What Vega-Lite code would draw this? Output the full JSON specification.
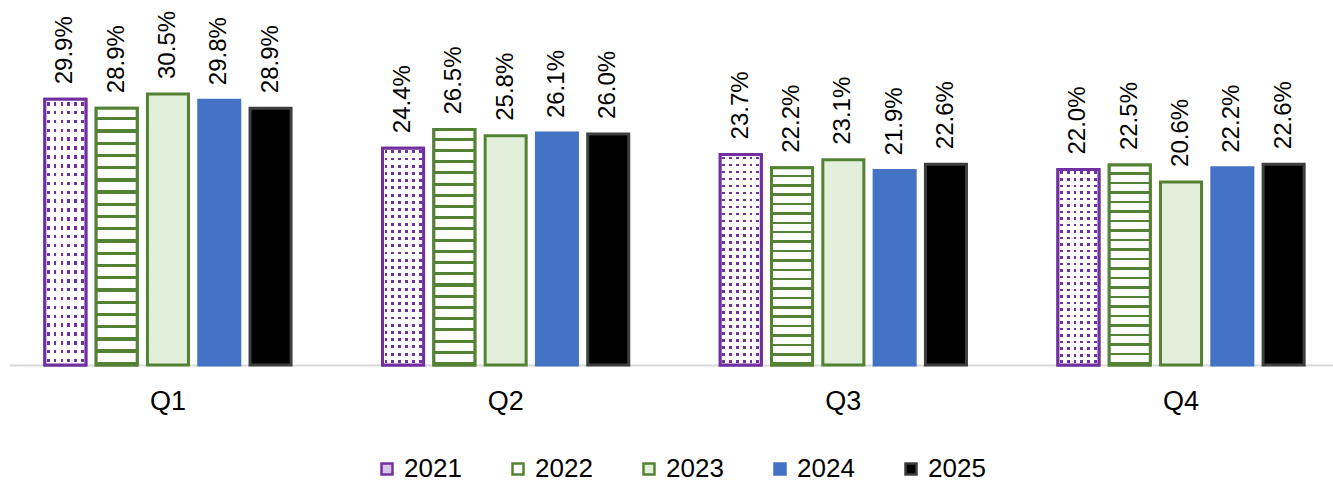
{
  "$schema": "https://vega.github.io/schema/vega-lite/v6.json",
  "autosize": "none",
  "width": 1331,
  "height": 311,
  "padding": {"left": 9, "top": 54, "right": 0, "bottom": 118},
  "background": "#ffffff",
  "config": {"view": {"stroke": null}, "font": "Liberation Sans"},
  "data": {"values": [
    {"quarter": "Q1", "year": "2021", "value": 0.299},
    {"quarter": "Q1", "year": "2022", "value": 0.289},
    {"quarter": "Q1", "year": "2023", "value": 0.305},
    {"quarter": "Q1", "year": "2024", "value": 0.298},
    {"quarter": "Q1", "year": "2025", "value": 0.289},
    {"quarter": "Q2", "year": "2021", "value": 0.244},
    {"quarter": "Q2", "year": "2022", "value": 0.265},
    {"quarter": "Q2", "year": "2023", "value": 0.258},
    {"quarter": "Q2", "year": "2024", "value": 0.261},
    {"quarter": "Q2", "year": "2025", "value": 0.260},
    {"quarter": "Q3", "year": "2021", "value": 0.237},
    {"quarter": "Q3", "year": "2022", "value": 0.222},
    {"quarter": "Q3", "year": "2023", "value": 0.231},
    {"quarter": "Q3", "year": "2024", "value": 0.219},
    {"quarter": "Q3", "year": "2025", "value": 0.226},
    {"quarter": "Q4", "year": "2021", "value": 0.220},
    {"quarter": "Q4", "year": "2022", "value": 0.225},
    {"quarter": "Q4", "year": "2023", "value": 0.206},
    {"quarter": "Q4", "year": "2024", "value": 0.222},
    {"quarter": "Q4", "year": "2025", "value": 0.226}
  ]},
  "encoding": {
    "x": {"field": "quarter", "type": "nominal", "title": null,
      "scale": {"paddingInner": 0.2405, "paddingOuter": 0.091},
      "axis": {"labelAngle": 0, "ticks": false, "domainColor": "#D9D9D9", "domainWidth": 2, "labelFontSize": 27, "labelColor": "#000000", "labelPadding": 23, "grid": false}},
    "xOffset": {"field": "year", "type": "nominal", "scale": {"paddingInner": 0.2, "paddingOuter": 0.1}},
    "y": {"field": "value", "type": "quantitative", "scale": {"domain": [0, 0.35]}, "axis": null}
  },
  "layer": [
    {
      "mark": {"type": "bar", "strokeWidth": 3},
      "encoding": {
        "fill": {"field": "year", "type": "nominal", "title": null,
          "scale": {"domain": ["2021", "2022", "2023", "2024", "2025"], "range": ["#D8C4E8", "#FFFFFF", "#E2EFDA", "#4472C4", "#000000"]},
          "legend": {"orient": "none", "legendX": 365, "legendY": 402, "direction": "horizontal", "symbolType": "square", "symbolSize": 121, "symbolStrokeWidth": 2.5, "labelFontSize": 26, "labelColor": "#000000", "labelOffset": 4, "columnPadding": 43, "padding": 0}},
        "stroke": {"field": "year", "type": "nominal", "title": null,
          "scale": {"domain": ["2021", "2022", "2023", "2024", "2025"], "range": ["#7030A0", "#548235", "#548235", "#4472C4", "#3F3F3F"]}}
      }
    },
    {
      "transform": [{"filter": "datum.year == '2021'"}],
      "mark": {"type": "bar", "strokeWidth": 0, "fill": {"gradient": "linear", "x1": 0, "y1": 0, "x2": 0, "y2": 1, "stops": [
        {"offset": 0, "color": "#ffffff"},
        {"offset": 0.01, "color": "#ffffff"}, {"offset": 0.01, "color": "#7030A0"}, {"offset": 0.0233, "color": "#7030A0"}, {"offset": 0.0233, "color": "#ffffff"},
        {"offset": 0.0433, "color": "#ffffff"}, {"offset": 0.0433, "color": "#7030A0"}, {"offset": 0.0567, "color": "#7030A0"}, {"offset": 0.0567, "color": "#ffffff"},
        {"offset": 0.0767, "color": "#ffffff"}, {"offset": 0.0767, "color": "#7030A0"}, {"offset": 0.09, "color": "#7030A0"}, {"offset": 0.09, "color": "#ffffff"},
        {"offset": 0.11, "color": "#ffffff"}, {"offset": 0.11, "color": "#7030A0"}, {"offset": 0.1233, "color": "#7030A0"}, {"offset": 0.1233, "color": "#ffffff"},
        {"offset": 0.1433, "color": "#ffffff"}, {"offset": 0.1433, "color": "#7030A0"}, {"offset": 0.1567, "color": "#7030A0"}, {"offset": 0.1567, "color": "#ffffff"},
        {"offset": 0.1767, "color": "#ffffff"}, {"offset": 0.1767, "color": "#7030A0"}, {"offset": 0.19, "color": "#7030A0"}, {"offset": 0.19, "color": "#ffffff"},
        {"offset": 0.21, "color": "#ffffff"}, {"offset": 0.21, "color": "#7030A0"}, {"offset": 0.2233, "color": "#7030A0"}, {"offset": 0.2233, "color": "#ffffff"},
        {"offset": 0.2433, "color": "#ffffff"}, {"offset": 0.2433, "color": "#7030A0"}, {"offset": 0.2567, "color": "#7030A0"}, {"offset": 0.2567, "color": "#ffffff"},
        {"offset": 0.2767, "color": "#ffffff"}, {"offset": 0.2767, "color": "#7030A0"}, {"offset": 0.29, "color": "#7030A0"}, {"offset": 0.29, "color": "#ffffff"},
        {"offset": 0.31, "color": "#ffffff"}, {"offset": 0.31, "color": "#7030A0"}, {"offset": 0.3233, "color": "#7030A0"}, {"offset": 0.3233, "color": "#ffffff"},
        {"offset": 0.3433, "color": "#ffffff"}, {"offset": 0.3433, "color": "#7030A0"}, {"offset": 0.3567, "color": "#7030A0"}, {"offset": 0.3567, "color": "#ffffff"},
        {"offset": 0.3767, "color": "#ffffff"}, {"offset": 0.3767, "color": "#7030A0"}, {"offset": 0.39, "color": "#7030A0"}, {"offset": 0.39, "color": "#ffffff"},
        {"offset": 0.41, "color": "#ffffff"}, {"offset": 0.41, "color": "#7030A0"}, {"offset": 0.4233, "color": "#7030A0"}, {"offset": 0.4233, "color": "#ffffff"},
        {"offset": 0.4433, "color": "#ffffff"}, {"offset": 0.4433, "color": "#7030A0"}, {"offset": 0.4567, "color": "#7030A0"}, {"offset": 0.4567, "color": "#ffffff"},
        {"offset": 0.4767, "color": "#ffffff"}, {"offset": 0.4767, "color": "#7030A0"}, {"offset": 0.49, "color": "#7030A0"}, {"offset": 0.49, "color": "#ffffff"},
        {"offset": 0.51, "color": "#ffffff"}, {"offset": 0.51, "color": "#7030A0"}, {"offset": 0.5233, "color": "#7030A0"}, {"offset": 0.5233, "color": "#ffffff"},
        {"offset": 0.5433, "color": "#ffffff"}, {"offset": 0.5433, "color": "#7030A0"}, {"offset": 0.5567, "color": "#7030A0"}, {"offset": 0.5567, "color": "#ffffff"},
        {"offset": 0.5767, "color": "#ffffff"}, {"offset": 0.5767, "color": "#7030A0"}, {"offset": 0.59, "color": "#7030A0"}, {"offset": 0.59, "color": "#ffffff"},
        {"offset": 0.61, "color": "#ffffff"}, {"offset": 0.61, "color": "#7030A0"}, {"offset": 0.6233, "color": "#7030A0"}, {"offset": 0.6233, "color": "#ffffff"},
        {"offset": 0.6433, "color": "#ffffff"}, {"offset": 0.6433, "color": "#7030A0"}, {"offset": 0.6567, "color": "#7030A0"}, {"offset": 0.6567, "color": "#ffffff"},
        {"offset": 0.6767, "color": "#ffffff"}, {"offset": 0.6767, "color": "#7030A0"}, {"offset": 0.69, "color": "#7030A0"}, {"offset": 0.69, "color": "#ffffff"},
        {"offset": 0.71, "color": "#ffffff"}, {"offset": 0.71, "color": "#7030A0"}, {"offset": 0.7233, "color": "#7030A0"}, {"offset": 0.7233, "color": "#ffffff"},
        {"offset": 0.7433, "color": "#ffffff"}, {"offset": 0.7433, "color": "#7030A0"}, {"offset": 0.7567, "color": "#7030A0"}, {"offset": 0.7567, "color": "#ffffff"},
        {"offset": 0.7767, "color": "#ffffff"}, {"offset": 0.7767, "color": "#7030A0"}, {"offset": 0.79, "color": "#7030A0"}, {"offset": 0.79, "color": "#ffffff"},
        {"offset": 0.81, "color": "#ffffff"}, {"offset": 0.81, "color": "#7030A0"}, {"offset": 0.8233, "color": "#7030A0"}, {"offset": 0.8233, "color": "#ffffff"},
        {"offset": 0.8433, "color": "#ffffff"}, {"offset": 0.8433, "color": "#7030A0"}, {"offset": 0.8567, "color": "#7030A0"}, {"offset": 0.8567, "color": "#ffffff"},
        {"offset": 0.8767, "color": "#ffffff"}, {"offset": 0.8767, "color": "#7030A0"}, {"offset": 0.89, "color": "#7030A0"}, {"offset": 0.89, "color": "#ffffff"},
        {"offset": 0.91, "color": "#ffffff"}, {"offset": 0.91, "color": "#7030A0"}, {"offset": 0.9233, "color": "#7030A0"}, {"offset": 0.9233, "color": "#ffffff"},
        {"offset": 0.9433, "color": "#ffffff"}, {"offset": 0.9433, "color": "#7030A0"}, {"offset": 0.9567, "color": "#7030A0"}, {"offset": 0.9567, "color": "#ffffff"},
        {"offset": 0.9767, "color": "#ffffff"}, {"offset": 0.9767, "color": "#7030A0"}, {"offset": 0.99, "color": "#7030A0"}, {"offset": 0.99, "color": "#ffffff"},
        {"offset": 1, "color": "#ffffff"}
      ]}}
    },
    {
      "transform": [{"filter": "datum.year == '2021'"}],
      "mark": {"type": "bar", "strokeWidth": 0, "fill": {"gradient": "linear", "x1": 0, "y1": 0, "x2": 1, "y2": 0, "stops": [
        {"offset": 0, "color": "#ffffff"},
        {"offset": 0.05, "color": "#ffffff"}, {"offset": 0.05, "color": "rgba(255,255,255,0)"}, {"offset": 0.1167, "color": "rgba(255,255,255,0)"}, {"offset": 0.1167, "color": "#ffffff"},
        {"offset": 0.2167, "color": "#ffffff"}, {"offset": 0.2167, "color": "rgba(255,255,255,0)"}, {"offset": 0.2833, "color": "rgba(255,255,255,0)"}, {"offset": 0.2833, "color": "#ffffff"},
        {"offset": 0.3833, "color": "#ffffff"}, {"offset": 0.3833, "color": "rgba(255,255,255,0)"}, {"offset": 0.45, "color": "rgba(255,255,255,0)"}, {"offset": 0.45, "color": "#ffffff"},
        {"offset": 0.55, "color": "#ffffff"}, {"offset": 0.55, "color": "rgba(255,255,255,0)"}, {"offset": 0.6167, "color": "rgba(255,255,255,0)"}, {"offset": 0.6167, "color": "#ffffff"},
        {"offset": 0.7167, "color": "#ffffff"}, {"offset": 0.7167, "color": "rgba(255,255,255,0)"}, {"offset": 0.7833, "color": "rgba(255,255,255,0)"}, {"offset": 0.7833, "color": "#ffffff"},
        {"offset": 0.8833, "color": "#ffffff"}, {"offset": 0.8833, "color": "rgba(255,255,255,0)"}, {"offset": 0.95, "color": "rgba(255,255,255,0)"}, {"offset": 0.95, "color": "#ffffff"},
        {"offset": 1, "color": "#ffffff"}
      ]}}
    },
    {
      "transform": [{"filter": "datum.year == '2022'"}],
      "mark": {"type": "bar", "strokeWidth": 0, "fill": {"gradient": "linear", "x1": 0, "y1": 0, "x2": 0, "y2": 1, "stops": [
        {"offset": 0, "color": "#ffffff"},
        {"offset": 0.03476, "color": "#ffffff"}, {"offset": 0.03476, "color": "#548235"}, {"offset": 0.04762, "color": "#548235"}, {"offset": 0.04762, "color": "#ffffff"},
        {"offset": 0.08238, "color": "#ffffff"}, {"offset": 0.08238, "color": "#548235"}, {"offset": 0.09524, "color": "#548235"}, {"offset": 0.09524, "color": "#ffffff"},
        {"offset": 0.13, "color": "#ffffff"}, {"offset": 0.13, "color": "#548235"}, {"offset": 0.14286, "color": "#548235"}, {"offset": 0.14286, "color": "#ffffff"},
        {"offset": 0.17762, "color": "#ffffff"}, {"offset": 0.17762, "color": "#548235"}, {"offset": 0.19048, "color": "#548235"}, {"offset": 0.19048, "color": "#ffffff"},
        {"offset": 0.22524, "color": "#ffffff"}, {"offset": 0.22524, "color": "#548235"}, {"offset": 0.2381, "color": "#548235"}, {"offset": 0.2381, "color": "#ffffff"},
        {"offset": 0.27286, "color": "#ffffff"}, {"offset": 0.27286, "color": "#548235"}, {"offset": 0.28571, "color": "#548235"}, {"offset": 0.28571, "color": "#ffffff"},
        {"offset": 0.32047, "color": "#ffffff"}, {"offset": 0.32047, "color": "#548235"}, {"offset": 0.33333, "color": "#548235"}, {"offset": 0.33333, "color": "#ffffff"},
        {"offset": 0.36809, "color": "#ffffff"}, {"offset": 0.36809, "color": "#548235"}, {"offset": 0.38095, "color": "#548235"}, {"offset": 0.38095, "color": "#ffffff"},
        {"offset": 0.41571, "color": "#ffffff"}, {"offset": 0.41571, "color": "#548235"}, {"offset": 0.42857, "color": "#548235"}, {"offset": 0.42857, "color": "#ffffff"},
        {"offset": 0.46333, "color": "#ffffff"}, {"offset": 0.46333, "color": "#548235"}, {"offset": 0.47619, "color": "#548235"}, {"offset": 0.47619, "color": "#ffffff"},
        {"offset": 0.51095, "color": "#ffffff"}, {"offset": 0.51095, "color": "#548235"}, {"offset": 0.52381, "color": "#548235"}, {"offset": 0.52381, "color": "#ffffff"},
        {"offset": 0.55857, "color": "#ffffff"}, {"offset": 0.55857, "color": "#548235"}, {"offset": 0.57143, "color": "#548235"}, {"offset": 0.57143, "color": "#ffffff"},
        {"offset": 0.60619, "color": "#ffffff"}, {"offset": 0.60619, "color": "#548235"}, {"offset": 0.61905, "color": "#548235"}, {"offset": 0.61905, "color": "#ffffff"},
        {"offset": 0.65381, "color": "#ffffff"}, {"offset": 0.65381, "color": "#548235"}, {"offset": 0.66667, "color": "#548235"}, {"offset": 0.66667, "color": "#ffffff"},
        {"offset": 0.70143, "color": "#ffffff"}, {"offset": 0.70143, "color": "#548235"}, {"offset": 0.71429, "color": "#548235"}, {"offset": 0.71429, "color": "#ffffff"},
        {"offset": 0.74905, "color": "#ffffff"}, {"offset": 0.74905, "color": "#548235"}, {"offset": 0.7619, "color": "#548235"}, {"offset": 0.7619, "color": "#ffffff"},
        {"offset": 0.79666, "color": "#ffffff"}, {"offset": 0.79666, "color": "#548235"}, {"offset": 0.80952, "color": "#548235"}, {"offset": 0.80952, "color": "#ffffff"},
        {"offset": 0.84428, "color": "#ffffff"}, {"offset": 0.84428, "color": "#548235"}, {"offset": 0.85714, "color": "#548235"}, {"offset": 0.85714, "color": "#ffffff"},
        {"offset": 0.8919, "color": "#ffffff"}, {"offset": 0.8919, "color": "#548235"}, {"offset": 0.90476, "color": "#548235"}, {"offset": 0.90476, "color": "#ffffff"},
        {"offset": 0.93952, "color": "#ffffff"}, {"offset": 0.93952, "color": "#548235"}, {"offset": 0.95238, "color": "#548235"}, {"offset": 0.95238, "color": "#ffffff"},
        {"offset": 0.98714, "color": "#ffffff"}, {"offset": 0.98714, "color": "#548235"}, {"offset": 1, "color": "#548235"}
      ]}}
    },
    {
      "transform": [{"filter": "datum.year == '2021' || datum.year == '2022'"}],
      "mark": {"type": "bar", "strokeWidth": 3, "fill": "transparent"},
      "encoding": {
        "stroke": {"field": "year", "type": "nominal", "legend": null}
      }
    },
    {
      "mark": {"type": "text", "angle": 270, "align": "left", "baseline": "middle", "dx": 15, "fontSize": 24, "color": "#000000"},
      "encoding": {
        "text": {"field": "value", "type": "quantitative", "format": ".1%"}
      }
    }
  ]
}
